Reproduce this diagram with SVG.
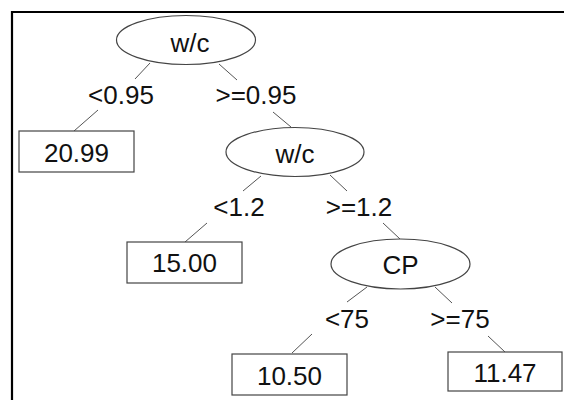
<svg xmlns="http://www.w3.org/2000/svg" width="564" height="400" viewBox="0 0 564 400">
<style>
text{font-family:"Liberation Sans",Arial,sans-serif;font-size:26px;fill:#111;text-anchor:middle}
.n{fill:#fff;stroke:#444;stroke-width:1.2}
.e line{stroke:#555;stroke-width:1}
</style>
<rect width="564" height="400" fill="#fff"/>
<path d="M12 400 V12 H564" fill="none" stroke="#000" stroke-width="2.2"/>
<g id="connectors" class="e">
<line x1="150" y1="63" x2="135" y2="79"/>
<line x1="219" y1="64" x2="237" y2="80"/>
<line x1="98" y1="110" x2="74" y2="131"/>
<line x1="273" y1="112" x2="291" y2="127"/>
<line x1="261" y1="176" x2="243" y2="191"/>
<line x1="330" y1="175" x2="347" y2="191"/>
<line x1="207" y1="223" x2="185" y2="242"/>
<line x1="383" y1="223" x2="400" y2="239"/>
<line x1="367" y1="287" x2="347" y2="302"/>
<line x1="435" y1="287" x2="452" y2="303"/>
<line x1="312" y1="334" x2="292" y2="353"/>
<line x1="488" y1="336" x2="505" y2="352"/>
</g>
<g id="edge-labels">
<text x="121" y="104">&lt;0.95</text>
<text x="256" y="104">&gt;=0.95</text>
<text x="239" y="216">&lt;1.2</text>
<text x="359" y="216">&gt;=1.2</text>
<text x="347" y="328">&lt;75</text>
<text x="460" y="328">&gt;=75</text>
</g>
<g id="node-root"><ellipse class="n" cx="186" cy="40" rx="69.5" ry="24.5"/><text x="190" y="52">w/c</text></g>
<g id="node-leaf1"><rect class="n" x="19" y="131" width="115" height="41"/><text x="76.5" y="162">20.99</text></g>
<g id="node-wc2"><ellipse class="n" cx="295" cy="152" rx="69" ry="24.5"/><text x="295" y="163">w/c</text></g>
<g id="node-leaf2"><rect class="n" x="127" y="242" width="115" height="41"/><text x="184.5" y="272">15.00</text></g>
<g id="node-cp"><ellipse class="n" cx="400.5" cy="264" rx="69.5" ry="25"/><text x="400.5" y="274">CP</text></g>
<g id="node-leaf3"><rect class="n" x="232" y="354" width="115" height="41"/><text x="289.5" y="385">10.50</text></g>
<g id="node-leaf4"><rect class="n" x="448" y="352" width="114" height="39"/><text x="505" y="382">11.47</text></g>
</svg>
